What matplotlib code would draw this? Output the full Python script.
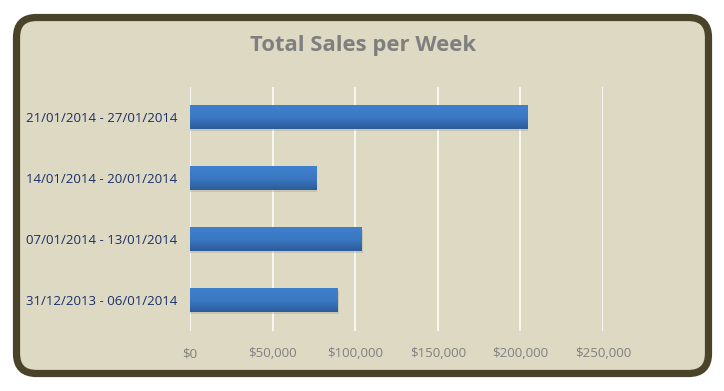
import numpy as np
import matplotlib.pyplot as plt
from matplotlib.patches import FancyBboxPatch, Rectangle
from matplotlib.colors import LinearSegmentedColormap
from matplotlib.ticker import FuncFormatter

weeks = ['31/12/2013 - 06/01/2014', '07/01/2014 - 13/01/2014',
         '14/01/2014 - 20/01/2014', '21/01/2014 - 27/01/2014']
sales = [89500, 104000, 76300, 204000]
xticks = [0, 50000, 100000, 150000, 200000, 250000]

W, H = 724, 391
fig = plt.figure(figsize=(W / 100, H / 100), dpi=100)
fig.patch.set_facecolor('white')

# background frame, drawn in pixel units
bg = fig.add_axes([0, 0, 1, 1])
bg.set_xlim(0, W)
bg.set_ylim(0, H)
bg.axis('off')
frame = FancyBboxPatch((16.5, 17.5), 692, 356,
                       boxstyle='round,pad=0,rounding_size=20',
                       facecolor='#DDD9C3', edgecolor='#4A4329', linewidth=5.2)
bg.add_patch(frame)

ax = fig.add_axes([190 / W, 1 - 330.5 / H, 413 / W, 244 / H])
ax.set_facecolor('none')

y = np.arange(len(weeks))
bh = 0.39
grad = np.linspace(0, 1, 64).reshape(-1, 1)
cmap = LinearSegmentedColormap.from_list('bar', ['#2C5C9A', '#3B78C4', '#3F80CD'])
for yi, v in zip(y, sales):
    # soft shadow under the bar
    ax.add_patch(Rectangle((0, yi - bh / 2 - 0.04), v + 600, bh, facecolor='#A9A595',
                           alpha=0.4, edgecolor='none', zorder=2))
    ax.imshow(grad, extent=(0, v, yi - bh / 2, yi + bh / 2), cmap=cmap,
              aspect='auto', origin='lower', zorder=3, interpolation='bilinear')
ax.set_xlim(0, 250000)
ax.set_ylim(-0.5, 3.5)

ax.set_xticks(xticks)
ax.xaxis.set_major_formatter(FuncFormatter(lambda v, p: '${:,.0f}'.format(v)))
ax.set_yticks(y)
ax.set_yticklabels(weeks)
ax.grid(axis='x', color='white', linewidth=1.1, zorder=1)
ax.set_axisbelow(True)
for s in ax.spines.values():
    s.set_visible(False)
ax.tick_params(axis='both', length=0)
ax.tick_params(axis='x', pad=12, labelcolor='#808080', labelsize=9.5)
ax.tick_params(axis='y', pad=9, labelcolor='#1A2F6B', labelsize=9.5)
for t in ax.get_xticklabels() + ax.get_yticklabels():
    t.set_fontfamily('Open Sans')

fig.text(363 / W, 1 - 46 / H, 'Total Sales per Week', ha='center', va='center',
         fontsize=15.8, fontweight='bold', color='#7F7F7F', family='Open Sans')

fig.savefig('out.png', dpi=100)
